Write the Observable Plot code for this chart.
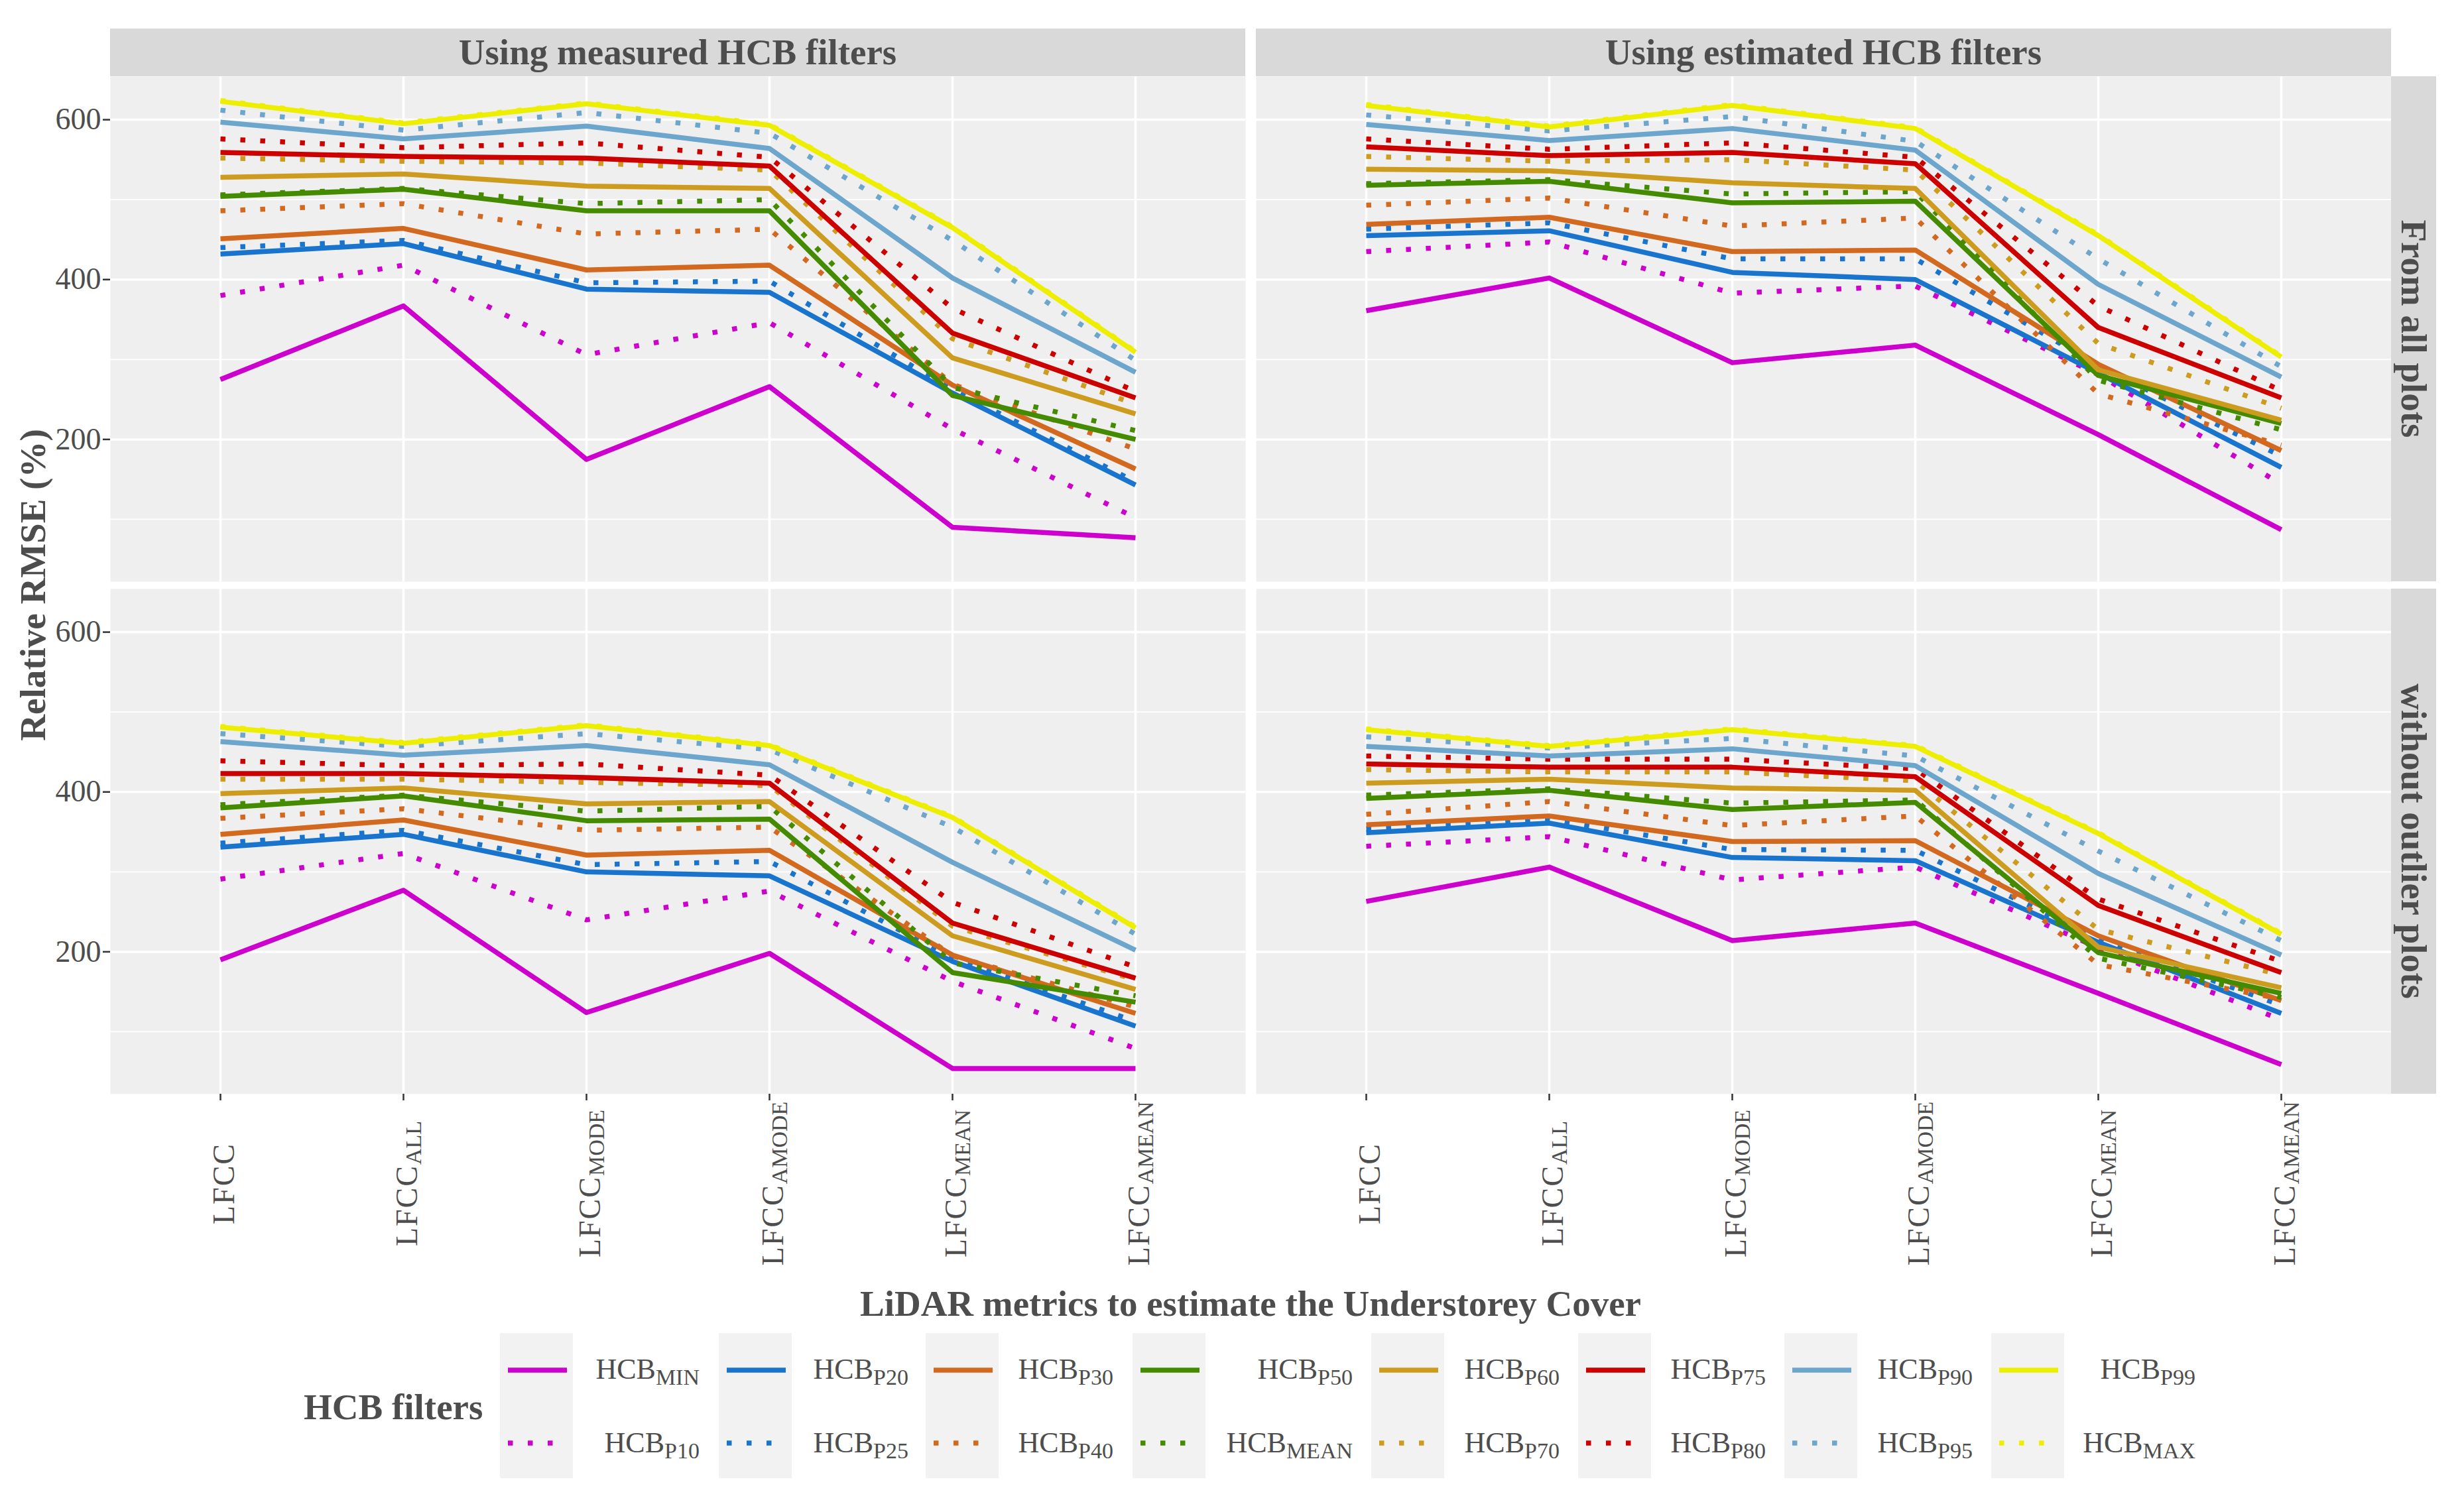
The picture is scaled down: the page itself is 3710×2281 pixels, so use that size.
<!DOCTYPE html>
<html><head><meta charset="utf-8">
<script src="https://cdn.jsdelivr.net/npm/d3@7"></script>
<script src="https://cdn.jsdelivr.net/npm/@observablehq/plot@0.6"></script>
<style>body{margin:0;background:#fff} svg{display:block}</style>
</head><body><div id="chart"></div>
<script>
const categories = ["LFCC", "LFCC_ALL", "LFCC_MODE", "LFCC_AMODE", "LFCC_MEAN", "LFCC_AMEAN"];
const filters = ["MIN", "P10", "P20", "P25", "P30", "P40", "P50", "MEAN", "P60", "P70", "P75", "P80", "P90", "P95", "P99", "MAX"];
const filterColors = ["#CD00CD", "#CD00CD", "#1874CD", "#1874CD", "#D2691E", "#D2691E", "#458B00", "#458B00",
                      "#CD9B1D", "#CD9B1D", "#CD0000", "#CD0000", "#6CA6CD", "#6CA6CD", "#EEEE00", "#EEEE00"];
const filterDotted = [false, true, false, true, false, true, false, true, false, true, false, true, false, true, false, true];
const columns = ["Using measured HCB filters", "Using estimated HCB filters"];
const rows = ["From all plots", "without outlier plots"];
const yTicks = [200, 400, 600];
const yMinor = [100, 300, 500];

// Relative RMSE (%) per filter (rows, in `filters` order) and metric (columns, in `categories` order)
const measuredAll = [
  [275, 367, 175, 266, 90, 77],
  [380, 418, 306, 346, 213, 102],
  [432, 445, 388, 384, 258, 143],
  [440, 449, 396, 398, 262, 147],
  [451, 464, 412, 418, 268, 163],
  [486, 495, 457, 463, 269, 188],
  [504, 513, 486, 486, 255, 200],
  [506, 514, 495, 500, 265, 211],
  [528, 532, 517, 514, 302, 232],
  [552, 548, 546, 537, 326, 244],
  [559, 554, 552, 542, 333, 252],
  [576, 565, 571, 553, 364, 260],
  [597, 576, 592, 564, 402, 284],
  [612, 587, 609, 583, 449, 299],
  [623, 595, 620, 593, 465, 309],
  [624, 596, 621, 594, 466, 310]
];
const estimatedAll = [
  [361, 402, 296, 318, 206, 87],
  [435, 447, 383, 392, 281, 144],
  [455, 461, 409, 400, 283, 165],
  [463, 471, 426, 426, 292, 179],
  [469, 478, 435, 437, 294, 186],
  [493, 502, 467, 477, 257, 193],
  [518, 523, 496, 498, 280, 220],
  [520, 525, 507, 510, 274, 212],
  [538, 536, 521, 514, 287, 224],
  [554, 548, 550, 537, 320, 239],
  [566, 555, 559, 545, 340, 252],
  [576, 563, 571, 553, 367, 261],
  [594, 574, 589, 562, 394, 278],
  [606, 586, 604, 573, 426, 291],
  [618, 591, 618, 589, 455, 303],
  [619, 592, 619, 590, 456, 304]
];
const measuredNoOutliers = [
  [190, 277, 124, 198, 54, 54],
  [291, 323, 240, 276, 163, 79],
  [331, 347, 300, 295, 188, 107],
  [336, 352, 309, 313, 192, 113],
  [347, 365, 321, 327, 196, 123],
  [367, 379, 352, 356, 195, 131],
  [380, 395, 364, 366, 174, 137],
  [384, 396, 376, 382, 186, 145],
  [398, 405, 385, 388, 220, 153],
  [416, 416, 412, 408, 232, 165],
  [423, 423, 418, 411, 236, 167],
  [439, 433, 435, 421, 262, 181],
  [463, 446, 458, 434, 312, 202],
  [473, 457, 473, 453, 356, 222],
  [481, 461, 483, 458, 368, 230],
  [482, 462, 484, 459, 369, 231]
];
const estimatedNoOutliers = [
  [263, 306, 214, 236, 148, 59],
  [332, 344, 290, 306, 205, 115],
  [349, 361, 318, 314, 212, 123],
  [354, 366, 328, 327, 216, 133],
  [359, 370, 338, 339, 220, 139],
  [372, 388, 358, 370, 184, 141],
  [392, 402, 378, 387, 199, 148],
  [396, 404, 386, 390, 192, 143],
  [411, 416, 405, 402, 206, 155],
  [428, 425, 425, 414, 228, 171],
  [435, 431, 431, 419, 258, 174],
  [445, 441, 441, 429, 266, 188],
  [457, 445, 454, 433, 298, 196],
  [469, 455, 467, 445, 326, 214],
  [478, 457, 478, 457, 348, 222],
  [479, 458, 479, 458, 349, 223]
];

const panels = [
  {col: columns[0], row: rows[0], values: measuredAll},
  {col: columns[1], row: rows[0], values: estimatedAll},
  {col: columns[0], row: rows[1], values: measuredNoOutliers},
  {col: columns[1], row: rows[1], values: estimatedNoOutliers}
];
const tidy = [];
panels.forEach(p => p.values.forEach((vals, i) => vals.forEach((v, j) =>
  tidy.push({filter: filters[i], metric: categories[j], value: v, col: p.col, row: p.row}))));

const xLabelData = [];
columns.forEach(c => categories.forEach(m => xLabelData.push({metric: m, col: c, row: rows[1]})));

const FONT = "Liberation Serif, Times New Roman, serif";
const TXT = "#4d4d4d";
const DASH = "7.5,22.5";

const lineMarks = filters.map((f, i) => Plot.line(tidy.filter(d => d.filter === f), {
  x: "metric", y: "value", fx: "col", fy: "row",
  stroke: filterColors[i], strokeWidth: 7.5,
  strokeDasharray: filterDotted[i] ? DASH : undefined,
  strokeLinecap: "butt", strokeLinejoin: "round"
}));

const chart = Plot.plot({
  width: 3710, height: 2281,
  marginLeft: 166, marginRight: 104, marginTop: 115, marginBottom: 631,
  style: {fontFamily: FONT, background: "white", color: TXT},
  fx: {domain: columns, paddingInner: 16 / 1728, paddingOuter: 0, round: false, axis: null},
  fy: {domain: rows, paddingInner: 11 / 773, paddingOuter: 0, round: false, axis: null},
  x: {type: "point", domain: categories, padding: 0.6},
  y: {domain: [22, 654]},
  marks: [
    Plot.frame({fill: "#efefef", stroke: "none"}),
    Plot.gridY(yMinor, {stroke: "white", strokeOpacity: 1, strokeWidth: 1.8}),
    Plot.gridY(yTicks, {stroke: "white", strokeOpacity: 1, strokeWidth: 3.5}),
    Plot.gridX(categories, {stroke: "white", strokeOpacity: 1, strokeWidth: 3.5}),
    ...lineMarks,
    Plot.axisY({ticks: yTicks, tickSize: 11, tickPadding: 3, fontSize: 46, stroke: "#333", strokeWidth: 2.5, fill: TXT, label: null}),
    Plot.axisX({tickSize: 10, stroke: "#333", strokeWidth: 2.5, tickFormat: () => "", label: null}),
    Plot.text(xLabelData, {x: "metric", fx: "col", fy: "row", text: "metric", frameAnchor: "bottom",
      dy: 135, dx: 20, rotate: -90, textAnchor: "middle", fontSize: 46, fill: TXT, className: "xlabels"})
  ]
});
document.getElementById("chart").appendChild(chart);

const svg = d3.select(chart);
// subscripts on x tick labels
svg.selectAll("g.xlabels text").each(function() {
  const parts = this.textContent.split("_");
  const t = d3.select(this);
  t.text(null);
  t.append("tspan").text(parts[0]).attr("letter-spacing", 2);
  if (parts[1]) t.append("tspan").attr("font-size", 34).attr("dy", 6).text(parts[1]);
});

const fxS = chart.scale("fx"), fyS = chart.scale("fy");
const bw = fxS.bandwidth, bh = fyS.bandwidth;
const deco = svg.append("g").attr("font-family", FONT).attr("text-anchor", "start");
columns.forEach(c => {
  const x0 = fxS.apply(c);
  deco.append("rect").attr("x", x0).attr("y", 43).attr("width", bw).attr("height", 72).attr("fill", "#d9d9d9");
  deco.append("text").attr("x", x0 + bw / 2).attr("y", 97).attr("text-anchor", "middle")
    .attr("font-size", 55).attr("font-weight", "bold").attr("fill", TXT).text(c);
});
const rightX = fxS.apply(columns[1]) + bw;
rows.forEach(r => {
  const y0 = fyS.apply(r);
  deco.append("rect").attr("x", rightX).attr("y", y0).attr("width", 68).attr("height", bh).attr("fill", "#d9d9d9");
  deco.append("text").attr("transform", `translate(${rightX + 16},${y0 + bh / 2}) rotate(90)`)
    .attr("text-anchor", "middle").attr("font-size", 55).attr("font-weight", "bold").attr("fill", TXT).text(r);
});
// axis titles
deco.append("text").attr("transform", `translate(68,${fyS.apply(rows[0]) + (fyS.apply(rows[1]) + bh - fyS.apply(rows[0])) / 2}) rotate(-90)`)
  .attr("text-anchor", "middle").attr("font-size", 55).attr("font-weight", "bold").attr("fill", TXT).text("Relative RMSE (%)");
deco.append("text").attr("x", (fxS.apply(columns[0]) + rightX) / 2).attr("y", 1985).attr("text-anchor", "middle")
  .attr("font-size", 55).attr("font-weight", "bold").attr("fill", TXT).text("LiDAR metrics to estimate the Understorey Cover");

// legend
const leg = deco.append("g");
leg.append("text").attr("x", 458).attr("y", 2141).attr("text-anchor", "start")
  .attr("font-size", 55).attr("font-weight", "bold").attr("fill", TXT).text("HCB filters");
const keyLefts = [754, 1084, 1396, 1708, 2068, 2380, 2691, 3003];
const labelEnds = [1055, 1370, 1679, 2040, 2352, 2663, 2975, 3311];
const rowLineY = [2067, 2177], rowBase = [2080, 2191];
keyLefts.forEach((kx, c) => {
  leg.append("rect").attr("x", kx).attr("y", 2011).attr("width", 110).attr("height", 219).attr("fill", "#f2f2f2");
  [0, 1].forEach(r => {
    const i = c * 2 + r;
    const ln = leg.append("line").attr("x1", kx + 12).attr("x2", kx + 101).attr("y1", rowLineY[r]).attr("y2", rowLineY[r])
      .attr("stroke", filterColors[i]).attr("stroke-width", 7.5).attr("stroke-linecap", "butt");
    if (filterDotted[i]) ln.attr("stroke-dasharray", DASH);
    const t = leg.append("text").attr("x", labelEnds[c]).attr("y", rowBase[r]).attr("text-anchor", "end")
      .attr("font-size", 44).attr("fill", TXT);
    t.append("tspan").text("HCB");
    t.append("tspan").attr("font-size", 34).attr("dy", 9).text(filters[i]);
  });
});
</script>
</body></html>
